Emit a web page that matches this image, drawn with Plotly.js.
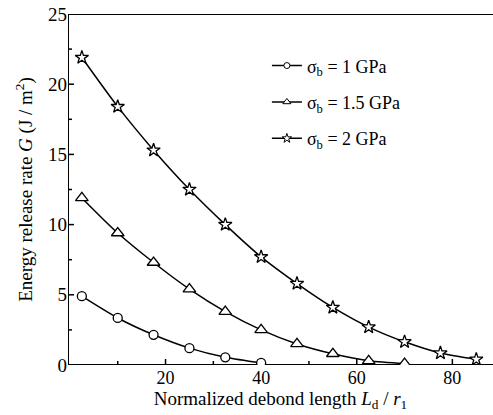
<!DOCTYPE html>
<html>
<head>
<meta charset="utf-8">
<script src="https://cdn.plot.ly/plotly-3.0.1.min.js"></script>
<style>
html,body{margin:0;padding:0;background:#fff;}
#chart{width:493px;height:415px;}
</style>
</head>
<body>
<div id="chart"></div>
<script>
// Normalized debond length Ld / r1
const xStar = [2.5, 10, 17.5, 25, 32.5, 40, 47.5, 55, 62.5, 70, 77.5, 85];
const xTri  = [2.5, 10, 17.5, 25, 32.5, 40, 47.5, 55, 62.5, 70];
const xCirc = [2.5, 10, 17.5, 25, 32.5, 40];
// Energy release rate G (J/m^2)
const gStar = [21.9, 18.4, 15.3, 12.5, 10.0, 7.7, 5.8, 4.1, 2.7, 1.65, 0.85, 0.4];
const gTri  = [11.9, 9.4, 7.3, 5.4, 3.8, 2.5, 1.5, 0.8, 0.3, 0.1];
const gCirc = [4.9, 3.35, 2.15, 1.2, 0.55, 0.15];
const seriesNames = ['σ<sub>b</sub> = 1 GPa', 'σ<sub>b</sub> = 1.5 GPa', 'σ<sub>b</sub> = 2 GPa'];
const xTicks = [20, 40, 60, 80];
const xMinorTicks = [10, 30, 50, 70];
const yTicks = [0, 5, 10, 15, 20, 25];
const yMinorTicks = [2.5, 7.5, 12.5, 17.5, 22.5];
const xRange = [-0.4, 88.5];
const yRange = [0, 25];

const W = 493, H = 415;
const M = {l: 68, r: 0, t: 14, b: 50};
const font = 'Liberation Serif';
const lineStyle = {color: '#000', width: 1.5, shape: 'spline', smoothing: 0.8};

function dataTrace(x, y, sym, size) {
  return {x: x, y: y, type: 'scatter', mode: 'lines+markers', showlegend: false,
    line: lineStyle, marker: {symbol: sym, size: size, color: '#fff', line: {color: '#000', width: 1.3}}};
}
function legendTrace(name, sym, size, grp) {
  return {x: [null], y: [null], type: 'scatter', mode: 'lines+markers', name: name, legendgroup: grp,
    line: {color: '#000', width: 1.5}, marker: {symbol: sym, size: size, color: '#fff', line: {color: '#000', width: 1}}};
}

// axis frame and inside tick marks, built from the axis ranges and tick arrays
const xUnitsPerPx = (xRange[1] - xRange[0]) / (W - M.l - M.r);
const yUnitsPerPx = (yRange[1] - yRange[0]) / (H - M.t - M.b);
function frameTraces() {
  const ax = {x: [xRange[0], xRange[1], null, xRange[0], xRange[1], null, xRange[0], xRange[0]],
              y: [yRange[0], yRange[0], null, yRange[1], yRange[1], null, yRange[0], yRange[1]]};
  const tk = {x: [], y: []};
  const add = (vals, len, isX) => vals.forEach(v => {
    if (isX) { tk.x.push(v, v, null); tk.y.push(yRange[0], yRange[0] + len * yUnitsPerPx, null); }
    else { tk.x.push(xRange[0], xRange[0] + len * xUnitsPerPx, null); tk.y.push(v, v, null); }
  });
  add(xTicks, 6, true); add(xMinorTicks, 4, true);
  add(yTicks, 6, false); add(yMinorTicks, 4, false);
  return [
    {x: ax.x, y: ax.y, type: 'scatter', mode: 'lines', showlegend: false, cliponaxis: false, hoverinfo: 'skip',
     line: {color: '#000', width: 2}},
    {x: tk.x, y: tk.y, type: 'scatter', mode: 'lines', showlegend: false, cliponaxis: false, hoverinfo: 'skip',
     line: {color: '#000', width: 1.5}}
  ];
}

const traces = [
  ...frameTraces(),
  dataTrace(xCirc, gCirc, 'circle', 9),
  dataTrace(xTri, gTri, 'triangle-up', 11),
  dataTrace(xStar, gStar, 'star', 10),
  legendTrace(seriesNames[0], 'circle', 6, 'a'),
  legendTrace(seriesNames[1], 'triangle-up', 7, 'b'),
  legendTrace(seriesNames[2], 'star', 7, 'c')
];

const layout = {
  width: W, height: H,
  margin: M,
  paper_bgcolor: '#fff', plot_bgcolor: '#fff',
  font: {family: font, color: '#000', size: 18},
  showlegend: true,
  legend: {x: 0.468, y: 0.905, xanchor: 'left', yanchor: 'top', bgcolor: 'rgba(0,0,0,0)',
    font: {family: font, size: 18, color: '#000'}, traceorder: 'grouped', tracegroupgap: 10, itemwidth: 30},
  xaxis: {
    range: xRange, showgrid: false, zeroline: false, showline: false, ticks: '',
    tickmode: 'array', tickvals: xTicks,
    tickfont: {family: font, size: 18},
    title: {text: 'Normalized debond length <i>L</i><sub>d</sub> / <i>r</i><sub>1</sub>', font: {family: font, size: 19}, standoff: 2}
  },
  yaxis: {
    range: yRange, showgrid: false, zeroline: false, showline: false, ticks: '',
    tickmode: 'array', tickvals: yTicks,
    tickfont: {family: font, size: 19},
    title: {text: 'Energy release rate <i>G</i> (J / m<sup>2</sup>)', font: {family: font, size: 19}, standoff: 10}
  }
};

Plotly.newPlot('chart', traces, layout, {displayModeBar: false, staticPlot: true});
</script>
</body>
</html>
